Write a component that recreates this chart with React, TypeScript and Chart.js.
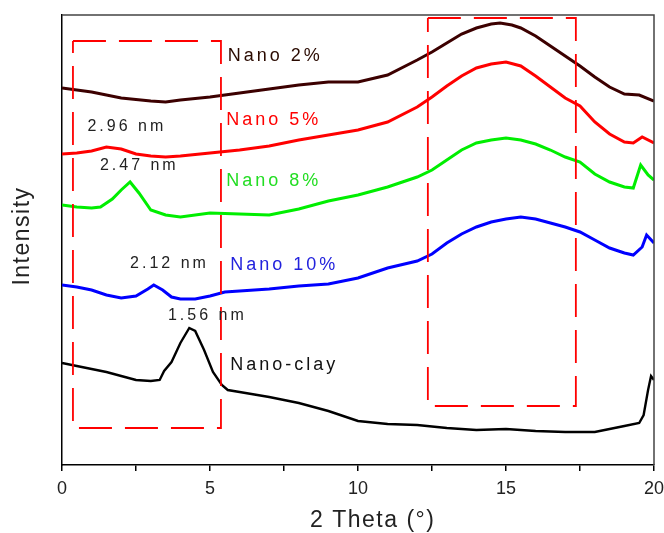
import React, { useEffect, useRef } from "react";
import { Chart, registerables } from "chart.js";

Chart.register(...registerables);

// 2θ (degrees) and offset intensity (a.u.)
const theta2 = [0, 1, 2, 3, 3.5, 4, 5, 6, 7, 8, 9, 10, 11, 12, 12.5, 13, 13.5, 14, 14.5, 14.8, 15.2, 15.5, 16, 16.5, 17, 17.5, 18, 18.5, 19, 19.5, 20];
const nano2 = [377, 373, 367, 364, 363, 365, 368, 372, 376, 380, 383, 383, 390, 405, 413, 422, 431, 437, 441, 442, 440, 437, 429, 419, 409, 399, 388, 378, 371, 370, 364];

const theta5 = [0, 0.5, 1, 1.5, 2, 2.5, 3, 3.5, 4, 5, 6, 7, 8, 9, 10, 11, 12, 12.5, 13, 13.5, 14, 14.5, 15, 15.5, 16, 16.5, 17, 17.5, 18, 18.5, 19, 19.3, 19.6, 20];
const nano5 = [311, 312, 314, 318, 316, 311, 309, 308, 309, 312, 315, 319, 325, 330, 335, 343, 358, 368, 379, 389, 397, 401, 403, 399, 389, 378, 367, 359, 343, 331, 323, 322, 328, 322];

const theta8 = [0, 0.5, 1, 1.3, 1.7, 2, 2.3, 2.6, 3, 3.5, 4, 5, 6, 7, 8, 9, 10, 11, 12, 12.5, 13, 13.5, 14, 14.5, 15, 15.5, 16, 16.5, 17, 17.5, 18, 18.5, 19, 19.3, 19.55, 19.8, 20];
const nano8 = [260, 258, 257, 258, 266, 275, 283, 272, 255, 250, 248, 252, 251, 250, 256, 264, 270, 278, 288, 295, 305, 315, 322, 325, 327, 325, 321, 315, 308, 303, 291, 283, 278, 277, 300, 290, 285];

const theta10 = [0, 0.5, 1, 1.5, 2, 2.5, 2.9, 3.1, 3.4, 3.7, 4, 4.5, 5, 5.5, 6, 7, 8, 9, 10, 11, 12, 12.5, 13, 13.5, 14, 14.5, 15, 15.5, 16, 16.5, 17, 17.5, 18, 18.5, 19, 19.3, 19.6, 19.75, 20];
const nano10 = [180, 178, 175, 170, 167, 169, 176, 180, 175, 168, 166, 166, 169, 173, 174, 176, 179, 181, 187, 197, 204, 211, 222, 231, 238, 243, 246, 248, 246, 242, 238, 233, 225, 217, 212, 210, 218, 230, 222];

const thetaClay = [0, 0.5, 1, 1.5, 2, 2.5, 3, 3.3, 3.45, 3.7, 4, 4.3, 4.5, 4.8, 5.1, 5.4, 5.6, 6, 7, 8, 9, 9.5, 10, 11, 12, 13, 14, 15, 16, 17, 18, 18.5, 19, 19.5, 19.65, 19.8, 19.9, 20];
const nanoClay = [102, 99, 96, 93, 89, 85, 84, 85, 94, 103, 122, 137, 134, 115, 93, 80, 75, 73, 68, 62, 54, 49, 44, 41, 40, 37, 35, 36, 34, 33, 33, 36, 39, 42, 50, 75, 89, 85];

const seriesNames = ["Nano 2%", "Nano 5%", "Nano 8%", "Nano 10%", "Nano-clay"];
const peakLabels = ["2.96 nm", "2.47 nm", "2.12 nm", "1.56 nm"];
const xTickLabels = ["0", "5", "10", "15", "20"];

// dashed highlight boxes: [theta min, theta max, intensity min, intensity max]
const boxLeft = [0.37, 5.37, 37, 424];
const boxRight = [12.36, 17.36, 59, 447];

const COLORS = ["#3c0000", "#ff0000", "#00ee00", "#0000ff", "#000000"];
const LABEL_COLORS = ["#2a0a00", "#ff0000", "#22dd22", "#2222dd", "#111111"];
const FONT = "Arial, 'Liberation Sans', sans-serif";

const pts = (xs: number[], ys: number[]) => xs.map((x, i) => ({ x, y: ys[i] }));
const rect = (b: number[]) => [
  { x: b[0], y: b[3] },
  { x: b[1], y: b[3] },
  { x: b[1], y: b[2] },
  { x: b[0], y: b[2] },
  { x: b[0], y: b[3] },
];

const textPlugin = {
  id: "texts",
  afterDatasetsDraw(chart: any) {
    const { ctx, scales, chartArea } = chart;
    const xs = scales.x;
    const ys = scales.y;
    ctx.save();
    // frame top/right
    ctx.strokeStyle = "#444";
    ctx.lineWidth = 1.5;
    ctx.beginPath();
    ctx.moveTo(chartArea.left, chartArea.top);
    ctx.lineTo(chartArea.right, chartArea.top);
    ctx.lineTo(chartArea.right, chartArea.bottom);
    ctx.stroke();

    const seriesPos = [
      [5.6, 409],
      [5.55, 345],
      [5.55, 284],
      [5.68, 200],
      [5.68, 100],
    ];
    ctx.textBaseline = "middle";
    ctx.textAlign = "left";
    ctx.font = `18px ${FONT}`;
    (ctx as any).letterSpacing = "3px";
    seriesNames.forEach((t, i) => {
      ctx.fillStyle = LABEL_COLORS[i];
      ctx.fillText(t, xs.getPixelForValue(seriesPos[i][0]), ys.getPixelForValue(seriesPos[i][1]));
    });
    const peakPos = [
      [0.86, 338],
      [1.28, 299],
      [2.3, 201],
      [3.58, 149],
    ];
    ctx.font = `16px ${FONT}`;
    (ctx as any).letterSpacing = "3px";
    ctx.fillStyle = "#222";
    peakLabels.forEach((t, i) => {
      ctx.fillText(t, xs.getPixelForValue(peakPos[i][0]), ys.getPixelForValue(peakPos[i][1]));
    });

    // axis titles
    ctx.font = `23px ${FONT}`;
    (ctx as any).letterSpacing = "1.5px";
    ctx.fillStyle = "#222";
    ctx.textAlign = "left";
    ctx.fillText("2 Theta (°)", 310, 521);
    ctx.textAlign = "center";
    ctx.translate(23, 236);
    ctx.rotate(-Math.PI / 2);
    ctx.fillText("Intensity", 0, 0);
    ctx.restore();
  },
};

export default function App() {
  const ref = useRef<HTMLCanvasElement | null>(null);
  useEffect(() => {
    if (!ref.current) return;
    const lineDs = (label: string, data: any[], color: string, w: number) => ({
      label,
      data,
      borderColor: color,
      backgroundColor: color,
      borderWidth: w,
      pointRadius: 0,
      tension: 0,
      fill: false,
    });
    const boxDs = (data: any[]) => ({
      label: "box",
      data,
      borderColor: "#ff0000",
      borderWidth: 1.8,
      borderDash: [33, 13],
      pointRadius: 0,
      tension: 0,
      fill: false,
    });
    const chart = new Chart(ref.current, {
      type: "line",
      data: {
        datasets: [
          boxDs(rect(boxLeft)),
          boxDs(rect(boxRight)),
          lineDs(seriesNames[0], pts(theta2, nano2), COLORS[0], 3),
          lineDs(seriesNames[1], pts(theta5, nano5), COLORS[1], 3),
          lineDs(seriesNames[2], pts(theta8, nano8), COLORS[2], 3),
          lineDs(seriesNames[3], pts(theta10, nano10), COLORS[3], 3),
          lineDs(seriesNames[4], pts(thetaClay, nanoClay), COLORS[4], 2.4),
        ] as any,
      },
      options: {
        responsive: false,
        animation: false,
        layout: { padding: { top: 15, right: 10, left: 0, bottom: 0 } },
        plugins: { legend: { display: false }, tooltip: { enabled: false } },
        scales: {
          x: {
            type: "linear",
            min: 0,
            max: 20,
            afterFit: (s: any) => {
              s.height = 68;
              s.paddingRight = 0;
              s.paddingLeft = 0;
            },
            grid: { drawOnChartArea: false, drawTicks: true, tickLength: 6, color: "#000", lineWidth: 1.5 },
            border: { color: "#000", width: 1.5 },
            ticks: {
              stepSize: 2.5,
              autoSkip: false,
              maxRotation: 0,
              padding: 7,
              color: "#222",
              font: { size: 18, family: FONT },
              callback: (v: any) => {
                const i = xTickLabels.indexOf(String(v));
                return i >= 0 ? xTickLabels[i] : "";
              },
            },
          },
          y: {
            type: "linear",
            min: 0,
            max: 450,
            afterFit: (s: any) => {
              s.width = 62;
            },
            grid: { display: false },
            border: { display: true, color: "#000", width: 1.5 },
            ticks: { display: false },
          },
        },
      },
      plugins: [textPlugin],
    });
    return () => chart.destroy();
  }, []);
  return (
    <div style={{ position: "fixed", left: 0, top: 0, width: 664, height: 533, background: "#fff" }}>
      <canvas ref={ref} width={664} height={533} style={{ display: "block" }} />
    </div>
  );
}
